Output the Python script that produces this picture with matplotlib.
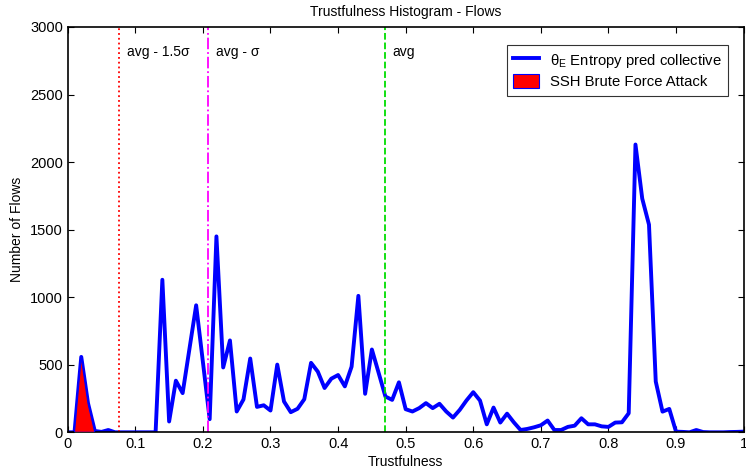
import numpy as np
import matplotlib
matplotlib.use("Agg")
import matplotlib.pyplot as plt

plt.rcParams['font.family'] = ['Liberation Sans', 'DejaVu Sans']
plt.rcParams['mathtext.fontset'] = 'custom'
plt.rcParams['mathtext.rm'] = 'Liberation Sans'
plt.rcParams['mathtext.default'] = 'regular'

# histogram bins (trustfulness) and flow counts
trust = np.round(np.arange(0, 1.001, 0.01), 2)
flows = [0, 0, 558, 215, 10, 3, 17, 0, 0, 0,
         0, 0, 0, 0, 1129, 80, 382, 290, 615, 940,
         520, 97, 1450, 480, 680, 154, 243, 546, 188, 200,
         161, 501, 228, 149, 174, 245, 514, 449, 328, 397,
         424, 340, 486, 1010, 285, 613, 440, 265, 240, 370,
         171, 154, 179, 216, 179, 211, 154, 109, 166, 236,
         297, 235, 59, 183, 72, 138, 74, 17, 25, 37,
         52, 87, 17, 17, 40, 49, 104, 59, 59, 44,
         40, 72, 74, 141, 2130, 1730, 1537, 376, 153, 173,
         5, 3, 0, 17, 2, 0, 0, 0, 2, 3, 5]

# SSH brute force attack
ssh_trust = [0.01, 0.02, 0.03, 0.04]
ssh_flows = [0, 555, 212, 0]

# thresholds
avg = 0.469
avg_sigma = 0.207
avg_15sigma = 0.076

fig = plt.figure(figsize=(7.46, 4.76), dpi=100)
ax = fig.add_axes([0.0908, 0.0918, 0.906, 0.8515])

ax.plot(trust, flows, color='blue', lw=2.8, label='θ$_E$ Entropy pred collective', zorder=2)
ax.fill(ssh_trust, ssh_flows, facecolor='red', edgecolor='blue', lw=0.8,
        label='SSH Brute Force Attack', zorder=3)

ax.axvline(avg_15sigma, color='red', ls=':', lw=1.3)
ax.axvline(avg_sigma, color='magenta', ls='-.', lw=1.3)
ax.axvline(avg, color='#00dd00', ls='--', lw=1.3)
ax.text(avg_15sigma + 0.012, 2815, 'avg - 1.5σ', fontsize=10, va='center')
ax.text(avg_sigma + 0.012, 2815, 'avg - σ', fontsize=10, va='center')
ax.text(avg + 0.012, 2815, 'avg', fontsize=10, va='center')

ax.set_xlim(0, 1)
ax.set_ylim(0, 3000)
ax.set_xticks(np.arange(0, 1.01, 0.1))
ax.set_xticklabels(['0', '0.1', '0.2', '0.3', '0.4', '0.5', '0.6', '0.7', '0.8', '0.9', '1'])
ax.set_yticks(np.arange(0, 3001, 500))
ax.tick_params(direction='in', top=True, right=True, labelsize=10.5, length=4, width=0.8)
for s in ax.spines.values():
    s.set_linewidth(1.2)

ax.set_xlabel('Trustfulness', fontsize=10, labelpad=3)
ax.set_ylabel('Number of Flows', fontsize=10)
ax.set_title('Trustfulness Histogram - Flows', fontsize=10, pad=8)

h, l = ax.get_legend_handles_labels()
leg = ax.legend(h, l, loc='upper right', bbox_to_anchor=(0.977, 0.956), borderaxespad=0,
                fontsize=10.7, frameon=True, fancybox=False, edgecolor='black',
                handlelength=1.7, handleheight=1.1, handletextpad=0.75, borderpad=0.45,
                labelspacing=0.3)
leg.get_frame().set_linewidth(0.8)

fig.savefig('out.png', dpi=100)
